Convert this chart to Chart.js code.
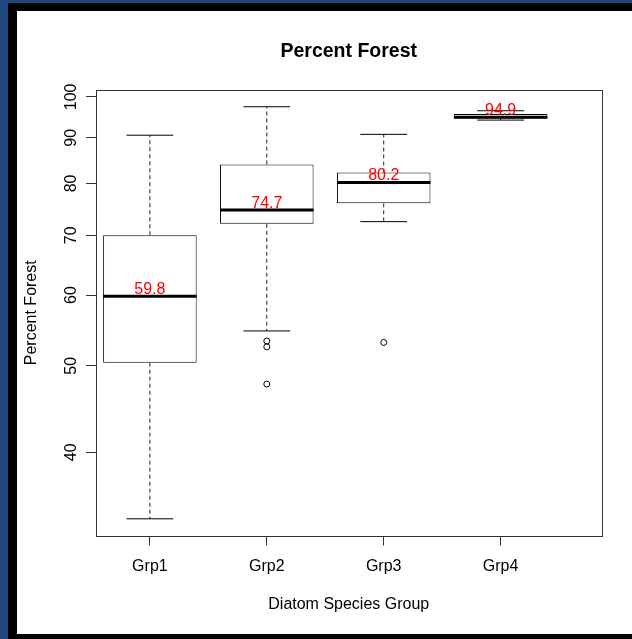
<!DOCTYPE html>
<html>
<head>
<meta charset="utf-8">
<script src="https://cdn.jsdelivr.net/npm/chart.js@4.4.0/dist/chart.umd.min.js"></script>
<style>
  html, body { margin: 0; padding: 0; background: #1f497d; }
  #frame { position: absolute; left: 8px; top: 3px; right: 0; bottom: 0; background: #000; }
  #paper { position: absolute; left: 17px; top: 11px; right: 0; bottom: 5px; background: #fff; }
  #wrap { position: absolute; left: 0; top: 0; width: 632px; height: 639px; }
</style>
</head>
<body>
<div id="frame"></div>
<div id="paper"></div>
<div id="wrap"><canvas id="chart" width="632" height="639"></canvas></div>
<script>
// boxplot stats (log scale)
const groups = ["Grp1", "Grp2", "Grp3", "Grp4"];
const positions = [1, 2, 3, 4];
const whiskerLow = [33.7, 54.7, 72.5, 94.2];
const quartile1 = [50.4, 72.1, 76.0, 94.6];
const medians = [59.8, 74.7, 80.2, 94.9];
const quartile3 = [70.0, 84.0, 82.3, 95.7];
const whiskerHigh = [90.6, 97.5, 90.8, 96.5];
const outlierGroup = [2, 2, 2, 3];
const outlierValue = [53.3, 52.5, 47.7, 53.1];
const yTicks = [40, 50, 60, 70, 80, 90, 100];

const BOX_HALF = 0.4;
const CAP_HALF = 0.2;

// two points then a gap
const seg = (x0, y0, x1, y1) => [{ x: x0, y: y0 }, { x: x1, y: y1 }, { x: x1, y: null }];

const medianLines = positions.flatMap((x, i) => seg(x - BOX_HALF, medians[i], x + BOX_HALF, medians[i]));
const whiskerLines = positions.flatMap((x, i) => [
  ...seg(x, quartile3[i], x, whiskerHigh[i]),
  ...seg(x, quartile1[i], x, whiskerLow[i]),
]);
const capLines = positions.flatMap((x, i) => [
  ...seg(x - CAP_HALF, whiskerHigh[i], x + CAP_HALF, whiskerHigh[i]),
  ...seg(x - CAP_HALF, whiskerLow[i], x + CAP_HALF, whiskerLow[i]),
]);

Chart.defaults.font.family = '"Liberation Sans", Arial, sans-serif';
Chart.defaults.color = "#000";

const rPlot = {
  id: "rPlot",
  afterDatasetsDraw(chart) {
    const { ctx, chartArea, scales } = chart;
    const { x, y } = scales;
    ctx.save();
    // plot frame
    ctx.strokeStyle = "#333";
    ctx.lineWidth = 1;
    ctx.strokeRect(
      Math.round(chartArea.left) + 0.5,
      Math.round(chartArea.top) + 0.5,
      Math.round(chartArea.right - chartArea.left),
      Math.round(chartArea.bottom - chartArea.top)
    );
    // median labels
    ctx.fillStyle = "red";
    ctx.font = '16px "Liberation Sans", Arial, sans-serif';
    ctx.textAlign = "center";
    ctx.textBaseline = "alphabetic";
    medians.forEach((m, i) => {
      ctx.fillText(m.toFixed(1), x.getPixelForValue(positions[i]), y.getPixelForValue(m) - 2.5);
    });
    // y tick labels, rotated like R's las = 0
    ctx.fillStyle = "#000";
    yTicks.forEach((v) => {
      ctx.save();
      ctx.translate(y.right - 20, y.getPixelForValue(v));
      ctx.rotate(-Math.PI / 2);
      ctx.fillText(String(v), 0, 0);
      ctx.restore();
    });
    ctx.restore();
  },
};

new Chart(document.getElementById("chart"), {
  type: "bar",
  data: {
    datasets: [
      {
        type: "bar",
        data: positions.map((x, i) => ({ x, y: [quartile1[i], quartile3[i]] })),
        backgroundColor: "#fff",
        borderColor: "#000",
        borderWidth: 1,
        borderSkipped: false,
        categoryPercentage: 2 * BOX_HALF,
        barPercentage: 1,
        order: 5,
      },
      {
        type: "line",
        data: whiskerLines,
        borderColor: "#222",
        borderWidth: 1,
        borderDash: [4, 3],
        pointRadius: 0,
        spanGaps: false,
        order: 4,
      },
      {
        type: "line",
        data: capLines,
        borderColor: "#000",
        borderWidth: 1,
        pointRadius: 0,
        spanGaps: false,
        order: 3,
      },
      {
        type: "line",
        data: medianLines,
        borderColor: "#000",
        borderWidth: 3,
        borderCapStyle: "butt",
        pointRadius: 0,
        spanGaps: false,
        order: 2,
      },
      {
        type: "line",
        data: outlierGroup.map((g, i) => ({ x: g, y: outlierValue[i] })),
        showLine: false,
        pointStyle: "circle",
        pointRadius: 3,
        pointBorderWidth: 1,
        pointBorderColor: "#000",
        pointBackgroundColor: "rgba(0,0,0,0)",
        order: 1,
      },
    ],
  },
  options: {
    responsive: false,
    animation: false,
    events: [],
    layout: { padding: { left: 0, right: 30.5, top: 0, bottom: 0 } },
    plugins: {
      legend: { display: false },
      tooltip: { enabled: false },
      title: {
        display: true,
        text: "Percent Forest",
        fullSize: false,
        color: "#000",
        font: { size: 19.5, weight: "bold", lineHeight: 1.2 },
        padding: { top: 40.3, bottom: 26.3 },
      },
    },
    scales: {
      x: {
        type: "linear",
        min: 0.539,
        max: 4.863,
        offset: false,
        bounds: "data",
        afterBuildTicks: (s) => { s.ticks = positions.map((v) => ({ value: v })); },
        afterFit: (s) => { s.height = 103.5; },
        grid: { display: true, offset: false, drawOnChartArea: false, drawTicks: true, tickLength: 10, color: "#333" },
        border: { display: false },
        ticks: {
          callback: (v) => groups[positions.indexOf(v)],
          padding: 11.5,
          color: "#000",
          font: { size: 16 },
          maxRotation: 0,
          autoSkip: false,
        },
        title: {
          display: true,
          text: "Diatom Species Group",
          color: "#000",
          font: { size: 16 },
          padding: { bottom: 24.4 },
        },
      },
      y: {
        type: "logarithmic",
        min: 32.28,
        max: 101.8,
        bounds: "data",
        afterBuildTicks: (s) => { s.ticks = yTicks.map((v) => ({ value: v })); },
        afterFit: (s) => { s.width = 96; },
        grid: { display: true, drawOnChartArea: false, drawTicks: true, tickLength: 10, color: "#333" },
        border: { display: false },
        ticks: { display: false },
        title: {
          display: true,
          text: "Percent Forest",
          color: "#000",
          font: { size: 16 },
          padding: { top: 22 },
        },
      },
    },
  },
  plugins: [rPlot],
});
</script>
</body>
</html>
